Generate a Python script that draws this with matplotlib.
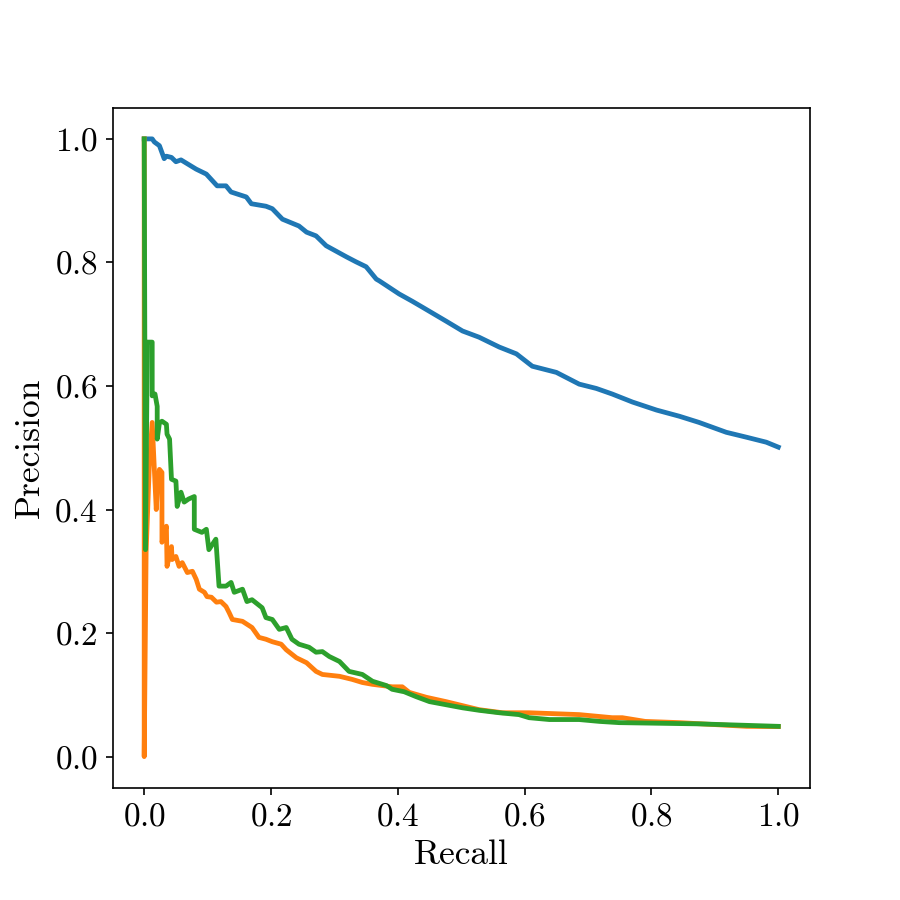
import matplotlib
matplotlib.use("Agg")
import matplotlib.pyplot as plt

# precision-recall curves
blue_recall = [0.0, 0.0126, 0.016, 0.024, 0.0315, 0.035, 0.043, 0.050, 0.058, 0.082,
               0.098, 0.115, 0.129, 0.137, 0.161, 0.169, 0.192, 0.202, 0.218, 0.244,
               0.256, 0.271, 0.287, 0.319, 0.334, 0.350, 0.366, 0.371, 0.402, 0.423,
               0.438, 0.476, 0.502, 0.528, 0.560, 0.587, 0.612, 0.650, 0.686, 0.713,
               0.738, 0.770, 0.808, 0.844, 0.875, 0.918, 0.950, 0.981, 1.0]
blue_precision = [1.0, 1.0, 0.995, 0.989, 0.968, 0.972, 0.970, 0.963, 0.966, 0.951,
                  0.943, 0.924, 0.924, 0.914, 0.906, 0.895, 0.891, 0.887, 0.870, 0.859,
                  0.849, 0.843, 0.827, 0.809, 0.801, 0.793, 0.773, 0.770, 0.749, 0.737,
                  0.728, 0.705, 0.689, 0.679, 0.663, 0.652, 0.632, 0.622, 0.603, 0.596,
                  0.587, 0.574, 0.561, 0.551, 0.541, 0.525, 0.517, 0.509, 0.501]

orange_recall = [0.0, 0.0, 0.003, 0.008, 0.0126, 0.016, 0.019, 0.0205, 0.024, 0.028,
                 0.028, 0.035, 0.036, 0.043, 0.044, 0.050, 0.055, 0.060, 0.068, 0.076,
                 0.082, 0.087, 0.095, 0.099, 0.106, 0.114, 0.121, 0.129, 0.134, 0.139,
                 0.155, 0.170, 0.181, 0.192, 0.202, 0.216, 0.224, 0.240, 0.256, 0.271,
                 0.281, 0.308, 0.328, 0.344, 0.360, 0.391, 0.407, 0.418, 0.445, 0.476,
                 0.528, 0.565, 0.607, 0.686, 0.738, 0.754, 0.790, 0.844, 0.950, 1.0]
orange_precision = [1.0, 0.0, 0.331, 0.470, 0.541, 0.465, 0.400, 0.428, 0.465, 0.460,
                    0.347, 0.373, 0.308, 0.340, 0.319, 0.324, 0.308, 0.314, 0.298, 0.300,
                    0.287, 0.271, 0.266, 0.259, 0.258, 0.250, 0.251, 0.243, 0.233, 0.222,
                    0.219, 0.209, 0.193, 0.190, 0.186, 0.182, 0.173, 0.160, 0.152, 0.138,
                    0.133, 0.130, 0.125, 0.120, 0.117, 0.113, 0.113, 0.104, 0.096, 0.089,
                    0.076, 0.071, 0.071, 0.068, 0.063, 0.063, 0.057, 0.055, 0.049, 0.0486]

green_recall = [0.0, 0.002, 0.005, 0.0126, 0.0126, 0.017, 0.0205, 0.0205, 0.024, 0.028,
                0.035, 0.036, 0.040, 0.043, 0.050, 0.052, 0.058, 0.063, 0.070, 0.079,
                0.079, 0.091, 0.098, 0.102, 0.113, 0.118, 0.129, 0.137, 0.142, 0.155,
                0.162, 0.170, 0.186, 0.192, 0.202, 0.213, 0.224, 0.233, 0.244, 0.260,
                0.271, 0.281, 0.292, 0.308, 0.323, 0.344, 0.360, 0.382, 0.391, 0.410,
                0.429, 0.450, 0.476, 0.502, 0.528, 0.560, 0.591, 0.607, 0.639, 0.686,
                0.718, 0.749, 0.875, 1.0]
green_precision = [1.0, 0.335, 0.671, 0.671, 0.584, 0.587, 0.567, 0.514, 0.540, 0.543,
                   0.538, 0.522, 0.514, 0.449, 0.446, 0.405, 0.428, 0.412, 0.417, 0.421,
                   0.368, 0.363, 0.368, 0.335, 0.352, 0.276, 0.276, 0.282, 0.266, 0.271,
                   0.251, 0.254, 0.241, 0.225, 0.222, 0.206, 0.209, 0.190, 0.182, 0.177,
                   0.169, 0.170, 0.162, 0.154, 0.138, 0.133, 0.122, 0.115, 0.109, 0.105,
                   0.097, 0.089, 0.084, 0.079, 0.075, 0.071, 0.068, 0.063, 0.060, 0.060,
                   0.057, 0.055, 0.053, 0.049]

plt.rcParams["font.family"] = "serif"
plt.rcParams["font.serif"] = ["cmr10"]
plt.rcParams["mathtext.fontset"] = "cm"
plt.rcParams["axes.formatter.use_mathtext"] = True
plt.rcParams["font.size"] = 16

fig, ax = plt.subplots(figsize=(6, 6), dpi=150)
fig.subplots_adjust(left=0.125, right=0.9, top=0.88, bottom=0.125)

ax.plot(blue_recall, blue_precision, color="#1f77b4", linewidth=2.3)
ax.plot(orange_recall, orange_precision, color="#ff7f0e", linewidth=2.3)
ax.plot(green_recall, green_precision, color="#2ca02c", linewidth=2.3)

ax.set_xlabel("Recall", fontsize=17)
ax.set_ylabel("Precision", fontsize=17)
ax.set_xticks([0.0, 0.2, 0.4, 0.6, 0.8, 1.0])
ax.set_yticks([0.0, 0.2, 0.4, 0.6, 0.8, 1.0])

fig.savefig("out.png", dpi=150)
